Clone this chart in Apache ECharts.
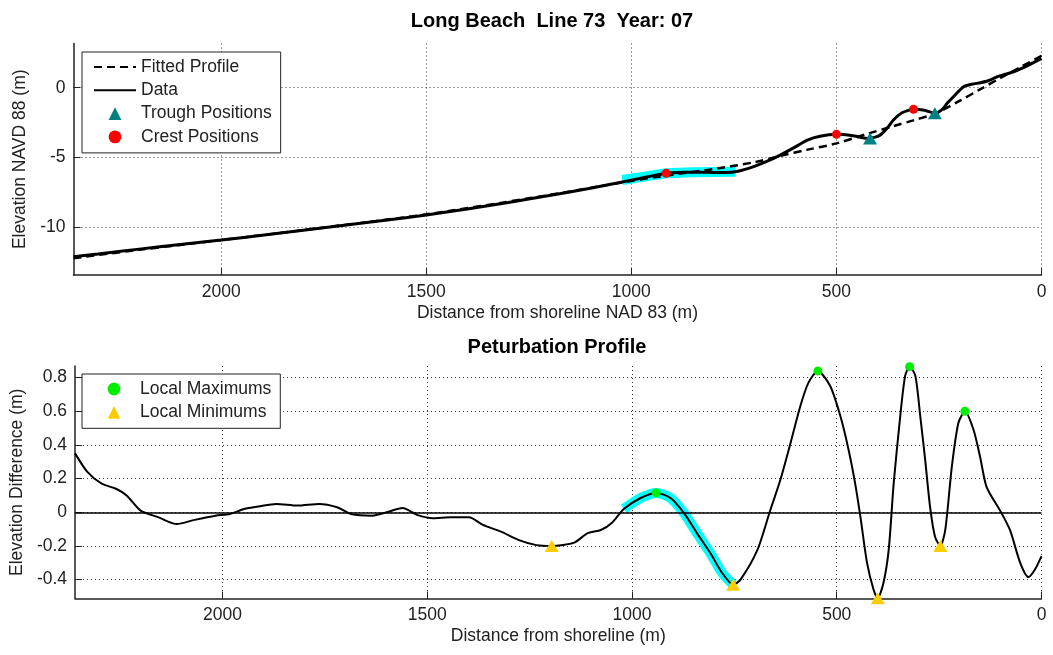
<!DOCTYPE html>
<html>
<head>
<meta charset="utf-8">
<title>Long Beach Line 73</title>
<script src="https://cdn.jsdelivr.net/npm/echarts@6/dist/echarts.min.js"></script>
<style>
  html, body { margin: 0; padding: 0; background: #fff; }
  #chart { width: 1053px; height: 655px; }
</style>
</head>
<body>
<div id="chart"></div>
<script>
// Cross-shore profile survey, Long Beach line 73, year 07.

// Measured profile (distance offshore in m, elevation NAVD 88 in m)
const profileDist = [2360, 2300, 2200, 2100, 2000, 1900, 1800, 1700, 1600, 1500, 1400, 1300, 1200, 1100, 1000,
  960, 915, 870, 820, 770, 740, 700, 670, 637, 600, 571, 540, 500, 460, 425, 405, 393, 375, 361, 340, 312,
  285, 258, 240, 230, 210, 190, 170, 149, 130, 108, 90, 68, 40, 20, 0];
const profileElev = [-12.15, -11.95, -11.6, -11.27, -10.95, -10.6, -10.25, -9.88, -9.52, -9.15, -8.72, -8.25, -7.75, -7.22, -6.64,
  -6.4, -6.15, -6.08, -6.07, -6.1, -6.0, -5.65, -5.3, -4.84, -4.25, -3.76, -3.48, -3.35, -3.45, -3.64, -3.55, -3.4, -2.85, -2.32, -1.8, -1.55,
  -1.62, -1.84, -1.5, -1.12, -0.5, 0.07, 0.25, 0.36, 0.5, 0.79, 0.95, 1.15, 1.5, 1.8, 2.11];

// Fitted equilibrium profile
const fittedDist = [2360, 2200, 2000, 1750, 1500, 1250, 1000, 900, 800, 700, 637, 570, 500, 423, 360, 310, 258, 200, 150, 100, 50, 0];
const fittedElev = [-12.25, -11.65, -10.95, -10.05, -9.1, -7.95, -6.7, -6.25, -5.85, -5.35, -4.9, -4.45, -4.0, -3.3, -2.75, -2.32, -1.84, -0.95, -0.12, 0.7, 1.5, 2.3];

// Highlighted outer bar segment
const barDist = [1022, 960, 915, 850, 746];
const barElev = [-6.63, -6.35, -6.15, -6.07, -6.03];

// Troughs and crests on the profile
const troughDist = [418, 260];
const troughElev = [-3.64, -1.84];
const crestDist = [915, 500, 312];
const crestElev = [-6.15, -3.35, -1.55];

// Perturbation (measured minus fitted), m
const pertDist = [2360, 2330, 2295, 2260, 2234, 2200, 2156, 2112, 2068, 2017, 1982, 1947, 1912, 1868, 1817, 1764, 1720,
  1686, 1634, 1599, 1560, 1525, 1486, 1442, 1398, 1364, 1320, 1276, 1233, 1196, 1141, 1109, 1076, 1048, 1020,
  979, 941, 906, 873, 841, 808, 780, 753, 735, 694, 662, 638, 613, 589, 569, 546, 516, 491, 471, 455, 442,
  426, 410, 400, 386, 373, 361, 345, 333, 322, 308, 296, 284, 272, 260, 247, 235, 219, 203, 187, 166, 150,
  134, 101, 77, 52, 32, 16, 0];
const pertDiff = [0.35, 0.24, 0.17, 0.14, 0.10, 0.01, -0.03, -0.07, -0.045, -0.02, -0.01, 0.02, 0.035, 0.05, 0.04, 0.05, 0.03,
  -0.01, -0.02, 0.0, 0.025, -0.015, -0.035, -0.03, -0.03, -0.075, -0.115, -0.165, -0.195, -0.2, -0.18, -0.125, -0.105, -0.06, 0.02,
  0.085, 0.115, 0.085, -0.005, -0.125, -0.245, -0.36, -0.43, -0.4, -0.225, 0.015, 0.19, 0.41, 0.63, 0.77, 0.84, 0.75, 0.57, 0.37, 0.17, -0.03,
  -0.3, -0.46, -0.51, -0.42, -0.22, 0.17, 0.57, 0.81, 0.865, 0.81, 0.57, 0.31, 0.03, -0.145, -0.2, -0.105, 0.27, 0.53, 0.6, 0.49, 0.33,
  0.15, 0.01, -0.105, -0.3, -0.385, -0.34, -0.26];

// Local extrema of the perturbation
const maxDist = [941, 546, 322, 187];
const maxDiff = [0.115, 0.84, 0.865, 0.6];
const minDist = [1196, 753, 400, 247];
const minDiff = [-0.2, -0.43, -0.51, -0.2];

// Tick positions
const distTicks = [0, 500, 1000, 1500, 2000];
const elevTicks = [-10, -5, 0];
const diffTicks = [-0.4, -0.2, 0, 0.2, 0.4, 0.6, 0.8];

const zip = (xs, ys) => xs.map((x, i) => [x, ys[i]]);
const barPert = zip(pertDist, pertDiff).filter(p => p[0] >= 753 && p[0] <= 1022);

const FONT = '"Liberation Sans", Arial, Helvetica, sans-serif';
const TXT = '#222';
const FS = 17.5;

function xAxisCfg(gridIndex, name) {
  return {
    type: 'value', gridIndex: gridIndex, min: 0, max: 2360, inverse: true, position: 'bottom',
    name: name, nameLocation: 'middle', nameGap: 29,
    nameTextStyle: { fontFamily: FONT, fontSize: FS, color: TXT },
    axisLine: { show: true, onZero: false, lineStyle: { color: '#222', width: 1.5 } },
    axisTick: { show: true, inside: true, length: 7, customValues: distTicks, lineStyle: { color: '#222', width: 1 } },
    axisLabel: { customValues: distTicks, margin: 8, fontFamily: FONT, fontSize: FS, color: TXT,
      formatter: v => String(v) },
    splitLine: { show: true, lineStyle: { type: [1, 3], color: '#333', width: 1 } }
  };
}

function yAxisCfg(gridIndex, name, min, max, ticks) {
  return {
    type: 'value', gridIndex: gridIndex, min: min, max: max, position: 'left',
    name: name, nameLocation: 'middle', nameGap: 42,
    nameTextStyle: { fontFamily: FONT, fontSize: FS, color: TXT },
    axisLine: { show: true, onZero: false, lineStyle: { color: '#222', width: 1.5 } },
    axisTick: { show: true, inside: true, length: 7, customValues: ticks, lineStyle: { color: '#222', width: 1 } },
    axisLabel: { customValues: ticks, margin: 8, fontFamily: FONT, fontSize: FS, color: TXT,
      formatter: v => String(v) },
    splitLine: { show: true, lineStyle: { type: [1, 3], color: '#333', width: 1 } }
  };
}

function legendCfg(top, items) {
  return {
    left: 82, top: top, orient: 'vertical', selectedMode: false,
    itemWidth: 42, itemHeight: 16, itemGap: 5.3,
    padding: [6, 9, 7, 11],
    borderColor: '#222', borderWidth: 1, backgroundColor: '#fff',
    textStyle: { fontFamily: FONT, fontSize: FS, color: TXT },
    data: items
  };
}

const chart = echarts.init(document.getElementById('chart'), null, { renderer: 'canvas' });
chart.setOption({
  animation: false,
  backgroundColor: '#fff',
  title: [
    { text: 'Long Beach  Line 73  Year: 07', left: 552, top: 11, textAlign: 'center', padding: 0,
      textStyle: { fontFamily: FONT, fontSize: 20, fontWeight: 'bold', color: '#000' } },
    { text: 'Peturbation Profile', left: 557, top: 337, textAlign: 'center', padding: 0,
      textStyle: { fontFamily: FONT, fontSize: 20, fontWeight: 'bold', color: '#000' } }
  ],
  grid: [
    { left: 73.5, right: 11.5, top: 43.5, bottom: 380, containLabel: false },
    { left: 73.5, right: 11.5, top: 366, bottom: 56.5, containLabel: false }
  ],
  xAxis: [
    xAxisCfg(0, 'Distance from shoreline NAD 83 (m)'),
    xAxisCfg(1, 'Distance from shoreline (m)')
  ],
  yAxis: [
    yAxisCfg(0, 'Elevation NAVD 88 (m)', -13.46, 3.18, elevTicks),
    yAxisCfg(1, 'Elevation Difference (m)', -0.512, 0.869, diffTicks)
  ],
  legend: [
    legendCfg(52, [
      { name: 'Fitted Profile', itemStyle: { opacity: 0 } },
      { name: 'Data', itemStyle: { opacity: 0 } },
      { name: 'Trough Positions' },
      { name: 'Crest Positions' }
    ]),
    legendCfg(374, [
      { name: 'Local Maximums' },
      { name: 'Local Minimums' }
    ])
  ],
  series: [
    // upper panel
    { name: 'bar', type: 'line', xAxisIndex: 0, yAxisIndex: 0, data: zip(barDist, barElev),
      symbol: 'none', lineStyle: { color: '#00ffff', width: 10 }, z: 1 },
    { name: 'Fitted Profile', type: 'line', xAxisIndex: 0, yAxisIndex: 0, data: zip(fittedDist, fittedElev),
      symbol: 'none', smooth: 0.3, itemStyle: { color: '#000' },
      lineStyle: { color: '#000', width: 2.5, type: [8, 5] }, z: 2 },
    { name: 'Data', type: 'line', xAxisIndex: 0, yAxisIndex: 0, data: zip(profileDist, profileElev),
      symbol: 'none', smooth: 0.2, itemStyle: { color: '#000' },
      lineStyle: { color: '#000', width: 3 }, z: 3 },
    { name: 'Trough Positions', type: 'line', xAxisIndex: 0, yAxisIndex: 0, data: zip(troughDist, troughElev),
      symbol: 'triangle', symbolSize: [14, 12], showSymbol: true,
      itemStyle: { color: '#008080' }, lineStyle: { opacity: 0, width: 0 }, z: 4 },
    { name: 'Crest Positions', type: 'line', xAxisIndex: 0, yAxisIndex: 0, data: zip(crestDist, crestElev),
      symbol: 'circle', symbolSize: 9, showSymbol: true,
      itemStyle: { color: '#ff0000' }, lineStyle: { opacity: 0, width: 0 }, z: 5 },

    // lower panel
    { name: 'barPert', type: 'line', xAxisIndex: 1, yAxisIndex: 1, data: barPert,
      symbol: 'none', smooth: 0.25, lineStyle: { color: '#00ffff', width: 10 }, z: 1 },
    { name: 'Perturbation', type: 'line', xAxisIndex: 1, yAxisIndex: 1, data: zip(pertDist, pertDiff),
      symbol: 'none', smooth: 0.25, lineStyle: { color: '#000', width: 2 }, z: 2,
      markLine: { silent: true, symbol: ['none', 'none'], label: { show: false },
        lineStyle: { color: '#000', width: 1.5, type: 'solid' }, data: [{ yAxis: 0 }] } },
    { name: 'Local Maximums', type: 'line', xAxisIndex: 1, yAxisIndex: 1, data: zip(maxDist, maxDiff),
      symbol: 'circle', symbolSize: 9, showSymbol: true,
      itemStyle: { color: '#00ee00' }, lineStyle: { opacity: 0, width: 0 }, z: 4 },
    { name: 'Local Minimums', type: 'line', xAxisIndex: 1, yAxisIndex: 1, data: zip(minDist, minDiff),
      symbol: 'triangle', symbolSize: [14, 12], showSymbol: true,
      itemStyle: { color: '#ffcc00' }, lineStyle: { opacity: 0, width: 0 }, z: 4 }
  ]
});
</script>
</body>
</html>
